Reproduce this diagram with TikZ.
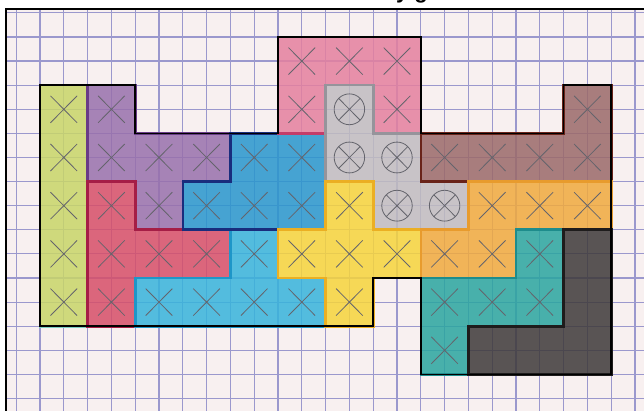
\documentclass[tikz,border=0pt]{standalone}
\usepackage{fontspec}
\setsansfont{Liberation Sans}
\definecolor{paper}{RGB}{248,240,240}
\definecolor{gridblue}{RGB}{155,152,205}
\definecolor{pencil}{RGB}{100,100,108}
\definecolor{greenF}{RGB}{200,214,104}\definecolor{greenD}{RGB}{125,205,195}
\definecolor{purpleF}{RGB}{152,112,172}\definecolor{purpleD}{RGB}{105,60,135}
\definecolor{redF}{RGB}{214,78,104}\definecolor{redD}{RGB}{165,30,70}
\definecolor{pinkF}{RGB}{229,128,158}\definecolor{pinkD}{RGB}{195,60,105}
\definecolor{grayF}{RGB}{192,188,192}\definecolor{grayD}{RGB}{150,148,155}
\definecolor{blueF}{RGB}{40,150,205}\definecolor{blueD}{RGB}{25,45,125}
\definecolor{cyanF}{RGB}{55,180,220}\definecolor{cyanD}{RGB}{30,150,200}
\definecolor{yellowF}{RGB}{246,212,60}\definecolor{yellowD}{RGB}{235,175,35}
\definecolor{brownF}{RGB}{155,105,105}\definecolor{brownD}{RGB}{105,35,25}
\definecolor{orangeF}{RGB}{240,170,62}\definecolor{orangeD}{RGB}{232,155,45}
\definecolor{tealF}{RGB}{42,165,160}\definecolor{tealD}{RGB}{30,140,140}
\definecolor{blackF}{RGB}{62,57,57}\definecolor{blackD}{RGB}{30,28,28}
\begin{document}
\begin{tikzpicture}[x=1pt,y=-1pt,
    gridline/.style={draw=gridblue,line width=1.2pt},
    piece/.style={line width=2.6pt,line join=miter,fill opacity=0.85},
    cross/.style={draw=pencil,line width=0.8pt},
    outline/.style={draw=black,line width=1.5pt,line join=miter}]
            \useasboundingbox (0,0) rectangle (644,411);
            \fill[white] (0,0) rectangle (644,411);
            \fill[paper] (6,9) rectangle (644,411);

            \node[anchor=base,inner sep=0pt,font=\sffamily\bfseries\fontsize{22}{22}\selectfont] (caption) at (412,-1) {y g};
            \draw[line width=2.2pt] (6,411)--(6,9)--(644,9);

            \begin{scope}[shift={(40,37)},x=47.6pt,y=-48.2pt]
            \begin{scope}
            \clip (-0.69,-0.54) rectangle (12.7,7.8);
            \foreach \i in {-0.5,0,...,12.5} \draw[gridline] (\i,-0.6)--(\i,7.8);
            \foreach \j in {-0.5,0,...,7.5} \draw[gridline] (-0.7,\j)--(12.7,\j);
            \end{scope}

            \filldraw[piece,fill=greenF,draw=greenD] (0,1)--(1,1)--(1,6)--(0,6)--cycle;
            \filldraw[piece,fill=purpleF,draw=purpleD] (1,1)--(2,1)--(2,2)--(4,2)--(4,3)--(3,3)--(3,4)--(2,4)--(2,3)--(1,3)--cycle;
            \filldraw[piece,fill=redF,draw=redD] (1,3)--(2,3)--(2,4)--(4,4)--(4,5)--(2,5)--(2,6)--(1,6)--cycle;
            \filldraw[piece,fill=cyanF,draw=cyanD] (4,4)--(5,4)--(5,5)--(6,5)--(6,6)--(2,6)--(2,5)--(4,5)--cycle;
            \filldraw[piece,fill=blueF,draw=blueD] (4,2)--(6,2)--(6,4)--(3,4)--(3,3)--(4,3)--cycle;
            \filldraw[piece,fill=pinkF,draw=pinkD] (5,0)--(8,0)--(8,2)--(7,2)--(7,1)--(6,1)--(6,2)--(5,2)--cycle;
            \filldraw[piece,fill=grayF,draw=grayD] (6,1)--(7,1)--(7,2)--(8,2)--(8,3)--(9,3)--(9,4)--(7,4)--(7,3)--(6,3)--cycle;
            \filldraw[piece,fill=yellowF,draw=yellowD] (6,3)--(7,3)--(7,4)--(8,4)--(8,5)--(7,5)--(7,6)--(6,6)--(6,5)--(5,5)--(5,4)--(6,4)--cycle;
            \filldraw[piece,fill=brownF,draw=brownD] (11,1)--(12,1)--(12,3)--(8,3)--(8,2)--(11,2)--cycle;
            \filldraw[piece,fill=orangeF,draw=orangeD] (9,3)--(12,3)--(12,4)--(10,4)--(10,5)--(8,5)--(8,4)--(9,4)--cycle;
            \filldraw[piece,fill=tealF,draw=tealD] (10,4)--(11,4)--(11,6)--(9,6)--(9,7)--(8,7)--(8,5)--(10,5)--cycle;
            \filldraw[piece,fill=blackF,draw=blackD] (11,4)--(12,4)--(12,7)--(9,7)--(9,6)--(11,6)--cycle;

            % pencil crosses
            \foreach \c/\r in {0/1,0/2,0/3,0/4,0/5, 1/1,1/2,2/2,3/2,2/3, 1/3,1/4,1/5,2/4,3/4,
                4/4,2/5,3/5,4/5,5/5, 4/2,5/2,3/3,4/3,5/3, 5/0,6/0,7/0,5/1,7/1,
                6/3,5/4,6/4,7/4,6/5, 11/1,8/2,9/2,10/2,11/2, 9/3,10/3,11/3,8/4,9/4,
                10/4,8/5,9/5,10/5,8/6}
                \draw[cross] (\c+0.22,\r+0.22)--(\c+0.78,\r+0.78) (\c+0.78,\r+0.22)--(\c+0.22,\r+0.78);
            \foreach \c/\r in {6/1,6/2,7/2,7/3,8/3}
                \draw[cross] (\c+0.5,\r+0.5) circle (0.32) (\c+0.28,\r+0.28)--(\c+0.72,\r+0.72) (\c+0.72,\r+0.28)--(\c+0.28,\r+0.72);

            \draw[outline] (0,1)--(2,1)--(2,2)--(5,2)--(5,0)--(8,0)--(8,2)--(11,2)--(11,1)--(12,1)--(12,7)--(8,7)--(8,5)--(7,5)--(7,6)--(0,6)--cycle;
            \end{scope}
        \end{tikzpicture}
\end{document}
